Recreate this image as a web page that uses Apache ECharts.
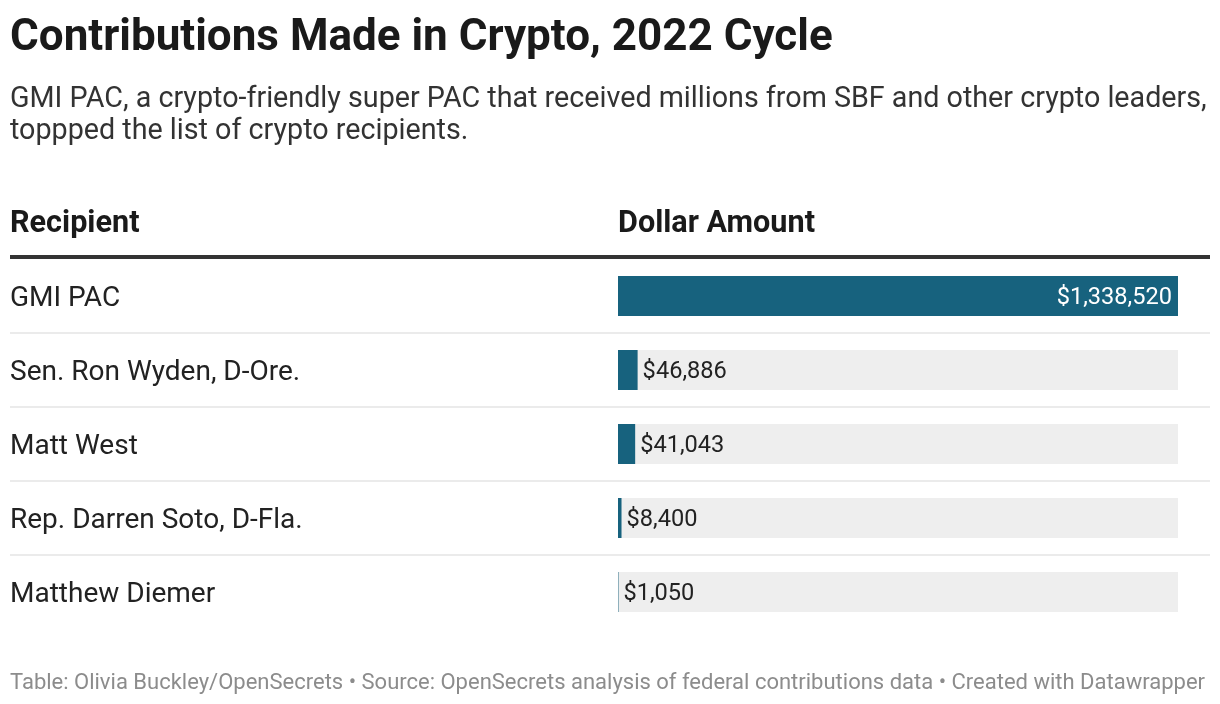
<!DOCTYPE html>
<html><head><meta charset="utf-8">
<script src="https://cdn.jsdelivr.net/npm/echarts@6/dist/echarts.min.js"></script>
<style>html,body{margin:0;padding:0;background:#fff}#c{width:1220px;height:704px}</style>
</head><body><div id="c"></div>
<script>
const recipients = ["GMI PAC", "Sen. Ron Wyden, D-Ore.", "Matt West", "Rep. Darren Soto, D-Fla.", "Matthew Diemer"];
const amounts = [1338520, 46886, 41043, 8400, 1050];
const titleText = "Contributions Made in Crypto, 2022 Cycle";
const subtitleText = "GMI PAC, a crypto-friendly super PAC that received millions from SBF and other crypto leaders,\ntoppped the list of crypto recipients.";
const headers = ["Recipient", "Dollar Amount"];
const footerText = "Table: Olivia Buckley/OpenSecrets • Source: OpenSecrets analysis of federal contributions data • Created with Datawrapper";

const FONT = 'Roboto';
const gridTop = 259, rowH = 74, gridLeft = 618, gridW = 560;
const fmt = v => '$' + v.toLocaleString('en-US');

const chart = echarts.init(document.getElementById('c'));
const graphics = [
  {type:'text', left:10, top:17, style:{text:titleText, font:'bold 44px Roboto', fill:'#1a1a1a'}},
  {type:'text', left:10, top:84, style:{text:subtitleText, font:'28.7px Roboto', fill:'#333', lineHeight:32}},
  {type:'text', left:10, top:209, style:{text:headers[0], font:'bold 30.6px Roboto', fill:'#1a1a1a'}},
  {type:'text', left:618, top:209, style:{text:headers[1], font:'bold 30.6px Roboto', fill:'#1a1a1a'}},
  {type:'rect', shape:{x:10, y:255, width:1200, height:4}, style:{fill:'#333'}},
  {type:'text', left:10, top:672, style:{text:footerText, font:'22px Roboto', fill:'#8c8c8c'}}
];
for (let i = 1; i < recipients.length; i++) {
  graphics.push({type:'rect', shape:{x:10, y:gridTop + i*rowH - 1, width:1200, height:2}, style:{fill:'#ebebeb'}});
}

chart.setOption({
  animation:false,
  textStyle:{fontFamily:FONT},
  grid:{left:gridLeft, top:gridTop, width:gridW, height:rowH*recipients.length},
  xAxis:{type:'value', min:0, max:amounts[0], show:false},
  yAxis:{type:'category', data:recipients, inverse:true,
    axisLine:{show:false}, axisTick:{show:false}, splitLine:{show:false},
    axisLabel:{align:'left', margin:gridLeft-10, fontSize:28, color:'#222', fontFamily:FONT,
      formatter: v => '{a|' + v + '}',
      rich:{a:{fontSize:28, color:'#222', fontFamily:FONT, padding:[6,0,0,0]}}}},
  series:[{type:'bar', barWidth:40,
    data: amounts.map((v,i)=>({value:v,
      label: i===0 ? {show:true, position:'insideRight', distance:6, color:'#fff', offset:[0,2]} : {show:true, position:'right', distance:5, color:'#222', offset:[0,2]}})),
    itemStyle:{color:'#17627e'},
    showBackground:true, backgroundStyle:{color:'#eeeeee'},
    label:{show:true, fontSize:23.6, fontFamily:FONT, formatter:p=>fmt(p.value)}
  }],
  graphic: graphics
});
</script></body></html>
